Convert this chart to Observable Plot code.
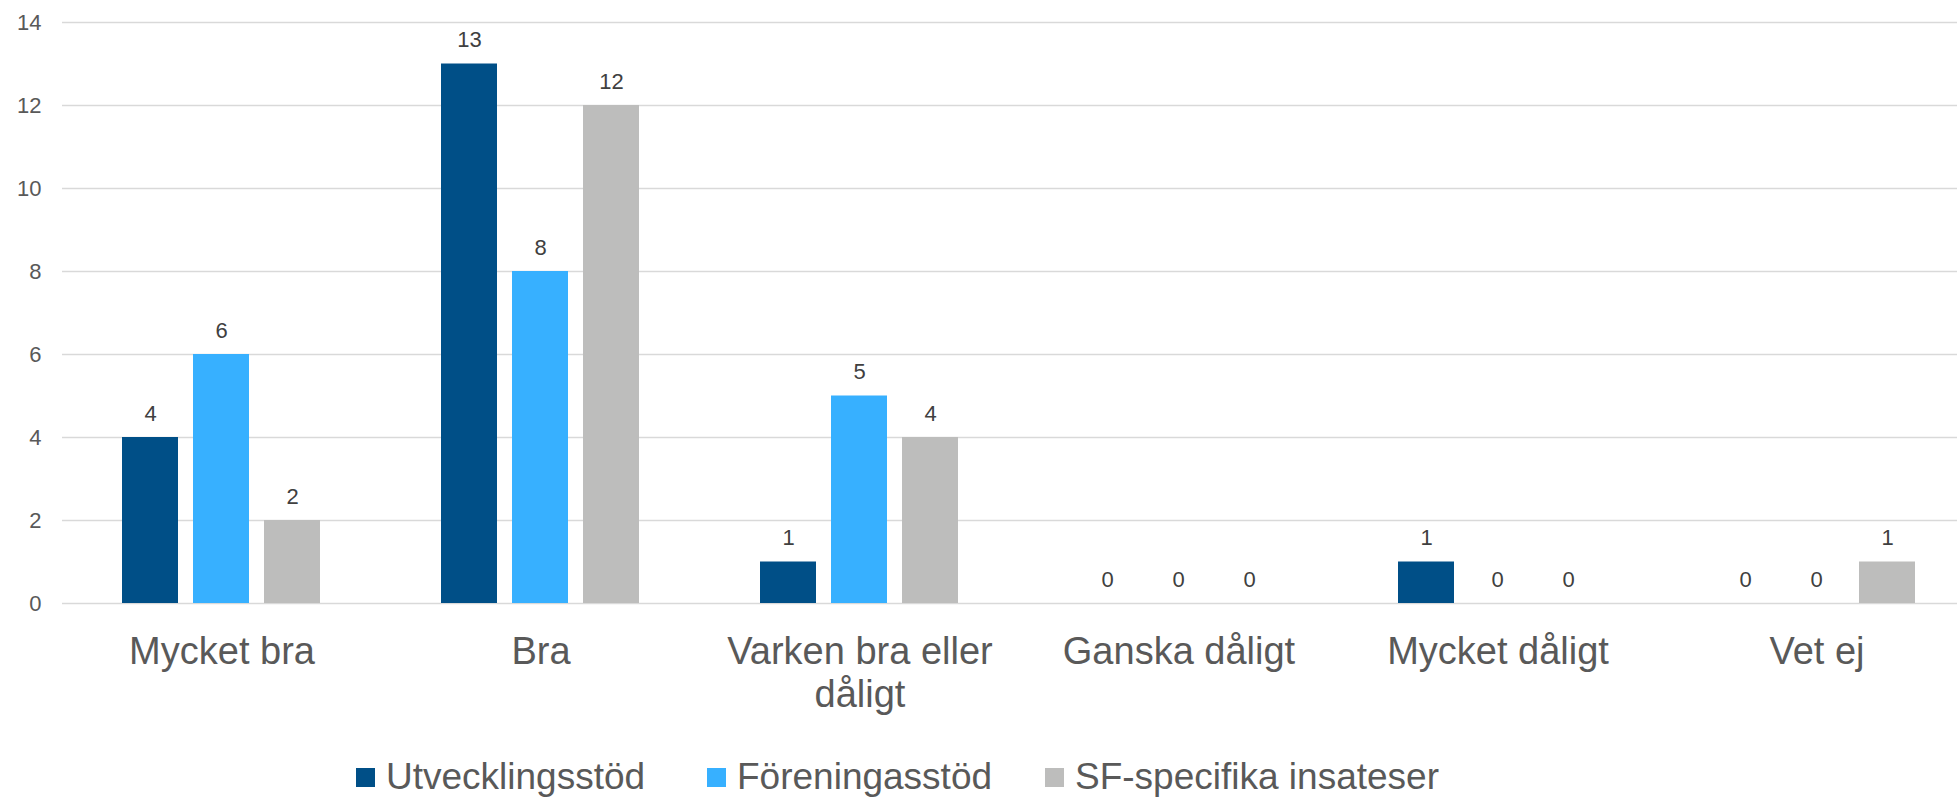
<!DOCTYPE html>
<html>
<head>
<meta charset="utf-8">
<script src="https://cdn.jsdelivr.net/npm/d3@7"></script>
<script src="https://cdn.jsdelivr.net/npm/@observablehq/plot@0.6"></script>
<style>
  html, body { margin: 0; padding: 0; background: #fff; overflow: hidden; }
  #wrap { position: relative; width: 1957px; height: 798px; overflow: hidden; font-family: "Liberation Sans", Arial, sans-serif; }
  #wrap svg { max-width: none !important; }
  .item { position: absolute; top: 758px; height: 38px; display: flex; align-items: center; }
  .sw { width: 19px; height: 19px; margin-right: 11px; }
  .lab { font-size: 37px; line-height: 38px; color: #595959; white-space: nowrap; }
</style>
</head>
<body>
<div id="wrap"></div>
<script>
const categories = ["Mycket bra", "Bra", "Varken bra eller dåligt", "Ganska dåligt", "Mycket dåligt", "Vet ej"];
const seriesNames = ["Utvecklingsstöd", "Föreningasstöd", "SF-specifika insateser"];
const utvecklingsstod = [4, 13, 1, 0, 1, 0];
const foreningsstod = [6, 8, 5, 0, 0, 0];
const sfSpecifika = [2, 12, 4, 0, 0, 1];
const colors = ["#004F87", "#37B0FF", "#BDBDBC"];
const yTicks = [0, 2, 4, 6, 8, 10, 12, 14];

const seriesValues = [utvecklingsstod, foreningsstod, sfSpecifika];
const data = [];
categories.forEach((c, i) => {
  seriesNames.forEach((s, j) => data.push({category: c, series: s, value: seriesValues[j][i]}));
});

const chart = Plot.plot({
  width: 1977,
  height: 730,
  marginTop: 22,
  marginLeft: 61,
  marginRight: 0,
  marginBottom: 127,
  style: {fontFamily: '"Liberation Sans", Arial, sans-serif', background: "#fff", maxWidth: "none"},
  fx: {domain: categories, padding: 0, label: null},
  x: {domain: seriesNames, paddingInner: 0.21, paddingOuter: 0.85, axis: null},
  y: {domain: [0, 14], ticks: yTicks, label: null},
  color: {domain: seriesNames, range: colors},
  marks: [
    Plot.gridY(yTicks, {stroke: "#d9d9d9", strokeOpacity: 1, strokeWidth: 1.4}),
    Plot.axisY(yTicks, {tickSize: 0, tickPadding: 21, fontSize: 22, fill: "#595959", label: null}),
    Plot.axisFx({anchor: "bottom", tickSize: 0, tickPadding: 30, fontSize: 38, fill: "#595959", lineWidth: 8, lineHeight: 1.13, label: null}),
    Plot.barY(data, {fx: "category", x: "series", y: "value", fill: "series"}),
    Plot.text(data, {fx: "category", x: "series", y: "value", text: d => String(d.value), dy: -24, fontSize: 22, fill: "#404040"})
  ]
});

const wrap = document.getElementById("wrap");
wrap.appendChild(chart);

const legendLefts = [356, 707, 1045];
seriesNames.forEach((s, i) => {
  const item = document.createElement("div");
  item.className = "item";
  item.style.left = legendLefts[i] + "px";
  const sw = document.createElement("div");
  sw.className = "sw";
  sw.style.background = colors[i];
  const lab = document.createElement("span");
  lab.className = "lab";
  lab.textContent = s;
  item.appendChild(sw);
  item.appendChild(lab);
  wrap.appendChild(item);
});
</script>
</body>
</html>
